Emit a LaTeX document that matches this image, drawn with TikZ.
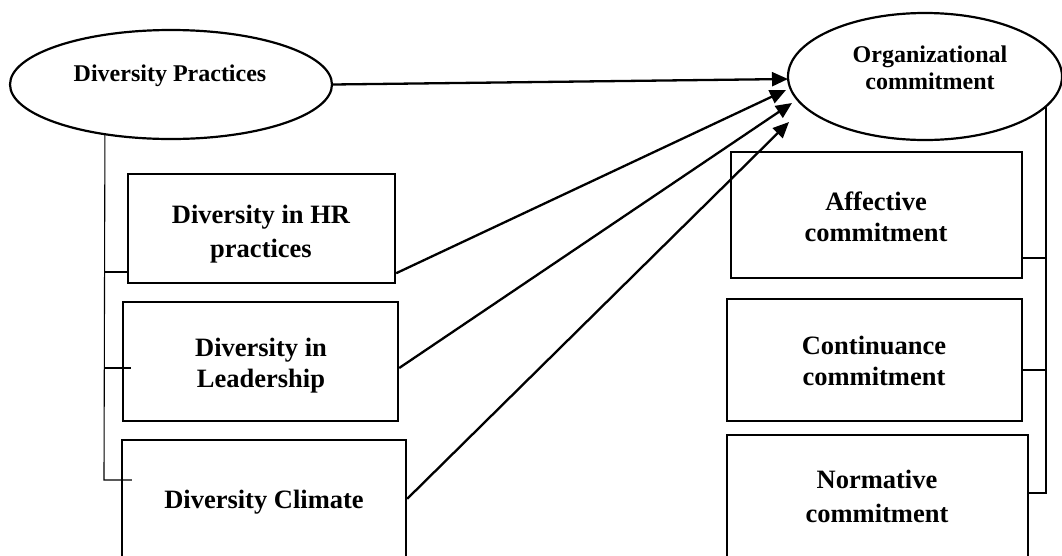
\documentclass[tikz,border=0pt]{standalone}
\usepackage{fontspec}
\setmainfont{Liberation Serif}
\usetikzlibrary{shapes.geometric,arrows.meta}
\tikzset{
  box/.style={draw, rectangle, line width=2.4pt, inner sep=0pt},
  oval/.style={draw, ellipse, line width=2.2pt, fill=white, inner sep=0pt},
  lbl/.style={inner sep=0pt, anchor=base, font=\bfseries\fontsize{26.5}{31}\selectfont},
  olbl/.style={inner sep=0pt, anchor=base, font=\bfseries\fontsize{24}{27}\selectfont},
  link/.style={line width=2.3pt, -{Triangle[length=16pt,width=14pt]}},
  brace/.style={line width=1.1pt}
}
\begin{document}
\begin{tikzpicture}[x=1pt,y=1pt]
\useasboundingbox (0,0) rectangle (1062,-555);
\clip (0,0) rectangle (1062,-555);
% bracket end points (ellipses are drawn later and cover the tops)
\coordinate (lt) at (105,-110);
\coordinate (lb) at (104,-480);
\coordinate (rt) at (1046,-100);
\coordinate (rb) at (1046,-493);
% boxes
\node[box, minimum width=267pt, minimum height=109pt] (b1) at (261.5,-228.5) {};
\node[box, minimum width=275pt, minimum height=119pt] (b2) at (260.5,-361.5) {};
\node[box, minimum width=284pt, minimum height=160pt] (b3) at (264,-520) {};
\node[box, minimum width=291pt, minimum height=126pt] (ba) at (876.5,-215) {};
\node[box, minimum width=295pt, minimum height=122pt] (bc) at (874.5,-360) {};
\node[box, minimum width=301pt, minimum height=165pt] (bn) at (877.5,-517.5) {};
% left bracket
\draw[brace] (lt) -- (lb) -- ([xshift=11pt]b3.west |- lb);
\draw[brace] (104,-272) -- (b1.west |- 0,-272);
\draw[brace] (104,-368) -- ([xshift=9pt]b2.west |- 0,-368);
% right bracket
\draw[brace] (rt) -- (rb) -- (bn.east |- rb);
\draw[brace] (1046,-258) -- (ba.east |- 0,-258);
\draw[brace] (1046,-370) -- (bc.east |- 0,-370);
% ellipses
\node[oval, minimum width=322pt, minimum height=109pt] (dp) at (171,-84.5) {};
\node[oval, minimum width=274pt, minimum height=127pt] (oc) at (925,-76.5) {};
% labels
\node[olbl] (dpt) at (170,-81) {Diversity Practices};
\node[olbl] (oct) at (930,-62) {\begin{tabular}[t]{@{}c@{}}Organizational\\commitment\end{tabular}};
\node[lbl, font=\bfseries\fontsize{26.5}{34}\selectfont] (b1t) at (261,-223) {\begin{tabular}[t]{@{}c@{}}Diversity in HR\\practices\end{tabular}};
\node[lbl] (b2t) at (261,-356) {\begin{tabular}[t]{@{}c@{}}Diversity in\\Leadership\end{tabular}};
\node[lbl] (b3t) at (264,-508) {Diversity Climate};
\node[lbl] (bat) at (876,-210) {\begin{tabular}[t]{@{}c@{}}Affective\\commitment\end{tabular}};
\node[lbl] (bct) at (874,-354) {\begin{tabular}[t]{@{}c@{}}Continuance\\commitment\end{tabular}};
\node[lbl, font=\bfseries\fontsize{26.5}{34}\selectfont] (bnt) at (877,-488) {\begin{tabular}[t]{@{}c@{}}Normative\\commitment\end{tabular}};
% arrow ends
\coordinate (e0) at (788,-79);
\coordinate (e1) at (786,-90);
\coordinate (e2) at (792,-103);
\coordinate (e3) at (789,-122);
\draw[link] (dp.east) -- (e0);
\draw[link] ([yshift=-2pt]b1.south east) ++(0,13pt) -- (e1);
\draw[link] ([yshift=-6.5pt]b2.east) -- (e2);
\draw[link] ([yshift=-60pt]b3.north east) -- (e3);
\end{tikzpicture}
\end{document}
